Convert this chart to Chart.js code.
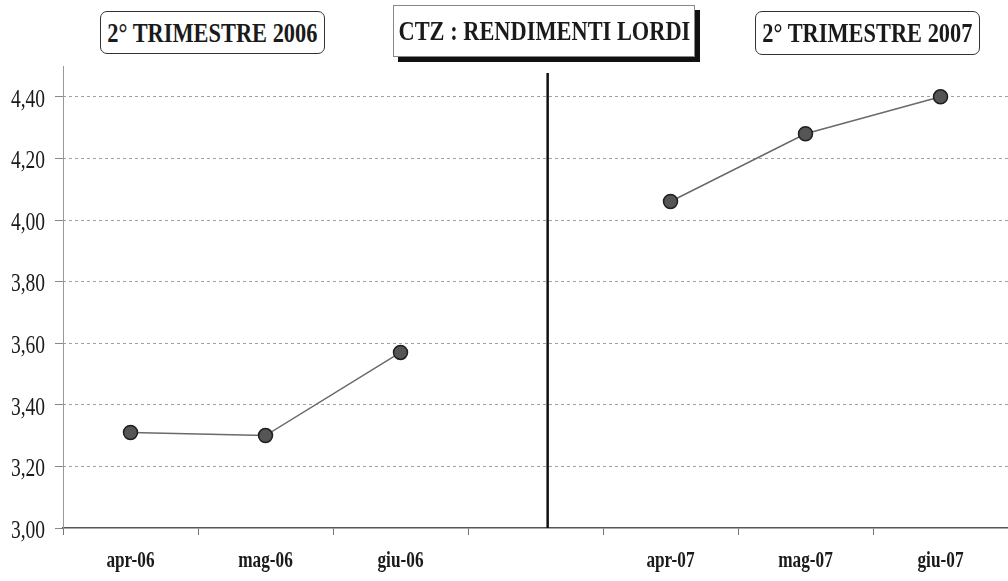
<!DOCTYPE html>
<html>
<head>
<meta charset="utf-8">
<script src="https://cdn.jsdelivr.net/npm/chart.js@4/dist/chart.umd.min.js"></script>
<style>
  html, body { margin: 0; padding: 0; background: #fff; }
  #wrap { position: relative; width: 1008px; height: 581px; }
  #wrap canvas { position: absolute; left: 0; top: 0; }
  .box {
    position: absolute;
    display: flex;
    align-items: center;
    justify-content: center;
    background: #fff;
    font-family: "Liberation Serif", "Times New Roman", serif;
    font-weight: bold;
    font-size: 28px;
    color: #1a1a1a;
    white-space: nowrap;
    box-sizing: border-box;
  }
  .box span { display: inline-block; transform: scaleX(0.8); }
  .round { border: 1.5px solid #333; border-radius: 7px; }
  #t1 { left: 100px; top: 11px; width: 225px; height: 43px; }
  #t3 { left: 755px; top: 11px; width: 225px; height: 44px; }
  #t2 { left: 393px; top: 5px; width: 302px; height: 52px; border: 1px solid #888; box-shadow: 5px 5px 0 #111; }
</style>
</head>
<body>
<div id="wrap">
  <canvas id="ctzChart" width="1008" height="581"></canvas>
  <div class="box round" id="t1"><span>2° TRIMESTRE 2006</span></div>
  <div class="box" id="t2"><span>CTZ : RENDIMENTI LORDI</span></div>
  <div class="box round" id="t3"><span>2° TRIMESTRE 2007</span></div>
</div>
<script>
// months, with an empty slot between the two quarters
const months = ["apr-06", "mag-06", "giu-06", "", "apr-07", "mag-07", "giu-07"];
const yields = [3.31, 3.30, 3.57, null, 4.06, 4.28, 4.40];
const yMin = 3.0;
const yMax = 4.5;
const yStep = 0.2;
const separatorAt = 3.09; // category index of the black divider

const canvas = document.getElementById("ctzChart");
const ctx = canvas.getContext("2d");

// the scanned chart uses a narrow Times face: squeeze every canvas label
const SQUEEZE = 0.75;
const rawFillText = ctx.fillText.bind(ctx);
ctx.fillText = (text, x, y) => rawFillText(text, x, y, ctx.measureText(text).width * SQUEEZE);

const serif = "'Liberation Serif', 'Times New Roman', serif";

// solid y axis line (border.dash would dash it too) + black divider
const lines = {
  id: "lines",
  beforeDatasetsDraw(chart) {
    const { ctx, chartArea } = chart;
    ctx.save();
    ctx.strokeStyle = "#999";
    ctx.lineWidth = 1;
    ctx.beginPath();
    ctx.moveTo(chartArea.left + 0.5, chartArea.top);
    ctx.lineTo(chartArea.left + 0.5, chartArea.bottom);
    ctx.stroke();
    ctx.restore();
  },
  afterDatasetsDraw(chart) {
    const { ctx, chartArea, scales } = chart;
    const x = scales.x.getPixelForValue(separatorAt);
    ctx.save();
    ctx.strokeStyle = "#111";
    ctx.lineWidth = 2.5;
    ctx.beginPath();
    ctx.moveTo(x, chartArea.top + 7);
    ctx.lineTo(x, chartArea.bottom);
    ctx.stroke();
    ctx.restore();
  }
};

const whiteBg = {
  id: "whiteBg",
  beforeDraw(chart) {
    const c = chart.ctx;
    c.save();
    c.fillStyle = "#fff";
    c.fillRect(0, 0, chart.width, chart.height);
    c.restore();
  }
};

new Chart(canvas, {
  type: "line",
  data: {
    labels: months,
    datasets: [{
      data: yields,
      borderColor: "#6a6a6a",
      borderWidth: 1.5,
      pointRadius: 7,
      pointBackgroundColor: "#555",
      pointBorderColor: "#1e1e1e",
      pointBorderWidth: 1.5,
      spanGaps: false,
      tension: 0
    }]
  },
  options: {
    responsive: false,
    animation: false,
    layout: { autoPadding: false, padding: { top: 66, right: 0, left: 0, bottom: 0 } },
    plugins: { legend: { display: false }, tooltip: { enabled: false } },
    scales: {
      x: {
        offset: true,
        grid: {
          offset: true,
          drawOnChartArea: false,
          drawTicks: true,
          tickLength: 7,
          color: "#777"
        },
        border: { color: "#555", width: 1.5 },
        ticks: {
          autoSkip: false,
          maxRotation: 0,
          padding: 12,
          color: "#1a1a1a",
          font: { family: serif, size: 23, weight: "bold" }
        },
        afterFit: (scale) => { scale.height = 53; }
      },
      y: {
        min: yMin,
        max: yMax,
        grid: {
          color: (c) => (c.tick && (c.tick.value === yMin) ? "rgba(0,0,0,0)" : "#a0a0a0"),
          tickColor: "#888",
          tickLength: 8,
          lineWidth: 1
        },
        border: { display: false, dash: [3, 3] },
        ticks: {
          stepSize: yStep,
          includeBounds: false,
          padding: 10,
          labelOffset: 3,
          color: "#1a1a1a",
          font: { family: serif, size: 26 },
          callback: (v) => v.toFixed(2).replace(".", ",")
        },
        afterFit: (scale) => { scale.width = 63; }
      }
    }
  },
  plugins: [whiteBg, lines]
});
</script>
</body>
</html>
